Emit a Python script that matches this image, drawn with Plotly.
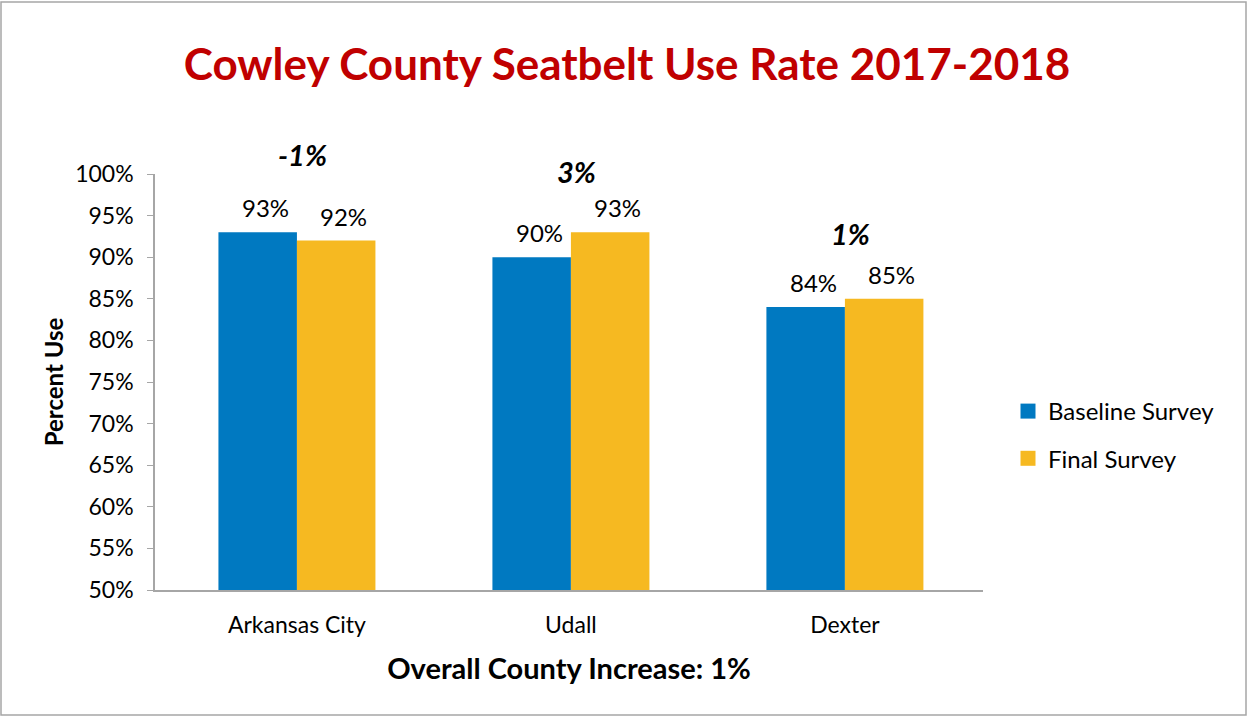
import plotly.graph_objects as go

categories = ["Arkansas City", "Udall", "Dexter"]
baseline = [93, 90, 84]
final = [92, 93, 85]
changes = ["-1%", "3%", "1%"]
change_label_y = [102.3, 100.3, 92.8]
series_names = ["Baseline Survey", "Final Survey"]
title_text = "Cowley County Seatbelt Use Rate 2017-2018"
xaxis_title = "Overall County Increase: 1%"
yaxis_title = "Percent Use"

BLUE = "#0079C1"
YELLOW = "#F6B921"
FONT = "Lato"
W, H = 1249, 717
ML, MR, MT, MB = 155, 266, 174, 127
YMIN, YMAX = 50, 100

fig = go.Figure()
for name, vals, col in [(series_names[0], baseline, BLUE), (series_names[1], final, YELLOW)]:
    fig.add_trace(go.Bar(x=categories, y=vals, name=name, marker=dict(color=col, line=dict(width=0)),
                         showlegend=False, hoverinfo="x+y"))
    fig.add_trace(go.Scatter(x=[None], y=[None], mode="markers", name=name,
                             marker=dict(symbol="square", size=15, color=col),
                             legendgroup=name, showlegend=True))

annotations = []
for i, cat in enumerate(categories):
    for j, vals in enumerate([baseline, final]):
        annotations.append(dict(x=i, y=vals[i], xref="x", yref="y", text=f"{vals[i]}%",
                                showarrow=False, yanchor="bottom", yshift=8,
                                xshift=(-39 if j == 0 else 39) + 8,
                                font=dict(family=FONT, size=24, color="#000000")))
    annotations.append(dict(x=i, y=(change_label_y[i] - YMIN) / (YMAX - YMIN), xref="x", yref="paper",
                            text=f"<b><i>{changes[i]}</i></b>", showarrow=False,
                            yanchor="middle", xshift=6,
                            font=dict(family=FONT, size=29, color="#000000")))

pw = W - ML - MR
ph = H - MT - MB
fig.add_shape(type="rect", xref="paper", yref="paper",
              x0=(1 - ML) / pw, x1=(1246 - ML) / pw,
              y0=((H - MB) - 715) / ph, y1=((H - MB) - 2) / ph,
              line=dict(color="#A6A6A6", width=1.5), fillcolor="rgba(0,0,0,0)", layer="below")

fig.update_layout(
    width=W, height=H,
    margin=dict(l=ML, r=MR, t=MT, b=MB, autoexpand=False),
    paper_bgcolor="white", plot_bgcolor="white",
    barmode="group", bargap=0.427, bargroupgap=0,
    title=dict(text=f"<b>{title_text}</b>", x=627 / W, xanchor="center",
               y=1 - 65 / H, yanchor="middle",
               font=dict(family=FONT, size=44, color="#C00000")),
    font=dict(family=FONT, size=23, color="#000000"),
    xaxis=dict(range=[-0.518, 2.504], showline=True, linecolor="#A6A6A6", linewidth=1.5,
               ticks="", showgrid=False, tickfont=dict(family=FONT, size=23), ticklabelstandoff=14,
               title=dict(text=f"<b>{xaxis_title}</b>", font=dict(family=FONT, size=29), standoff=21)),
    yaxis=dict(range=[YMIN, YMAX], dtick=5, ticksuffix="%", showline=True, linecolor="#A6A6A6",
               linewidth=1.5, ticks="outside", ticklen=6, tickcolor="#A6A6A6", showgrid=False,
               zeroline=False, tickfont=dict(family=FONT, size=23), ticklabelstandoff=9,
               title=dict(text=f"<b>{yaxis_title}</b>", font=dict(family=FONT, size=24), standoff=5)),
    legend=dict(x=(1008 - ML) / pw, xanchor="left", y=(H - MB - 435) / ph, yanchor="middle",
                font=dict(family=FONT, size=24), tracegroupgap=13, traceorder="grouped",
                bgcolor="rgba(0,0,0,0)", itemwidth=30),
    annotations=annotations,
)

fig.write_html("out.html", config={"displayModeBar": False},
               post_script="document.body.style.margin='0';document.body.style.padding='0';")
